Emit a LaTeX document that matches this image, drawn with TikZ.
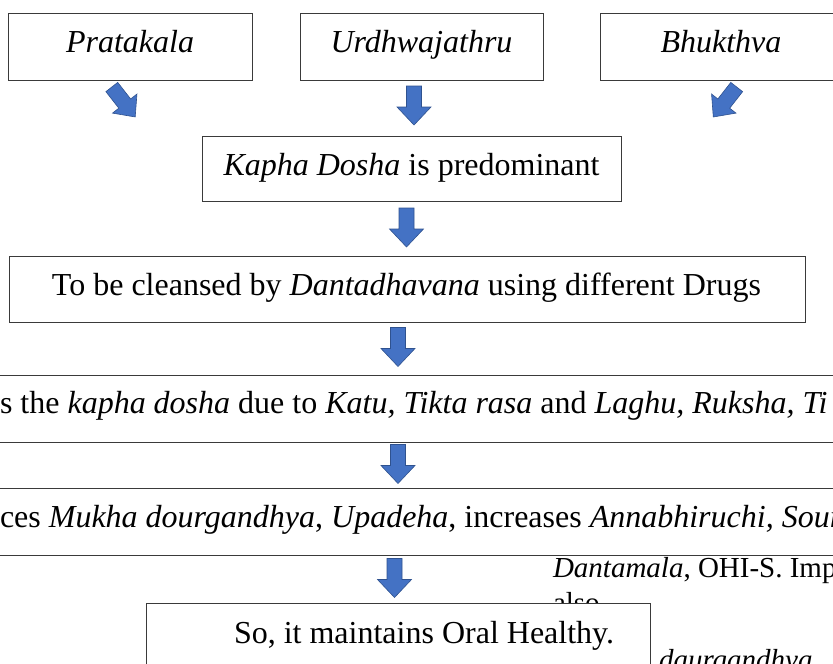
\documentclass[tikz,border=0pt]{standalone}
\usepackage{fontspec}
\setmainfont{Liberation Serif}
\definecolor{arrowblue}{HTML}{4472C4}
\definecolor{arrowedge}{HTML}{2F528F}
\definecolor{boxedge}{HTML}{3A3A3A}
\tikzset{
  box/.style={draw=boxedge, line width=1pt, fill=white, inner sep=0pt, outer sep=0pt},
  lbl/.style={inner sep=0pt, outer sep=0pt, anchor=base},
  lblw/.style={inner sep=0pt, outer sep=0pt, anchor=base west},
  mainfont/.style={font=\fontsize{32}{38}\selectfont},
  sidefont/.style={font=\fontsize{29}{34}\selectfont},
  bigarrow/.pic={\path[fill=arrowblue, draw=arrowedge, line width=0.6pt]
     (-7.5,-19.5) -- (7.5,-19.5) -- (7.5,1.5) -- (17,1.5) -- (0,19.5)
     -- (-17,1.5) -- (-7.5,1.5) -- cycle;},
  smallarrow/.pic={\path[fill=arrowblue, draw=arrowedge, line width=0.6pt]
     (-7.5,-19) -- (7.5,-19) -- (7.5,2) -- (15.5,2) -- (0,19)
     -- (-15.5,2) -- (-7.5,2) -- cycle;}
}
\begin{document}
\begin{tikzpicture}[x=1pt,y=-1pt,mainfont]
\useasboundingbox (0,0) rectangle (833,664);
\clip (0,0) rectangle (833,664);
\fill[white] (0,0) rectangle (833,664);

% top boxes
\node[box, minimum width=244, minimum height=67] (pbox) at (130,46.5) {};
\node[lbl] (ptxt) at (130,52) {\textit{Pratakala}};
\node[box, minimum width=243, minimum height=67] (ubox) at (421.5,46.5) {};
\node[lbl] (utxt) at (421.5,52) {\textit{Urdhwajathru}};
\node[box, minimum width=242, minimum height=67] (bbox) at (721,46.5) {};
\node[lbl] (btxt) at (721,52) {\textit{Bhukthva}};

% arrows into Kapha box
\pic[rotate=38] at (123.5,102) {smallarrow};
\pic at (414,105.5) {bigarrow};
\pic[rotate=-38] at (725,102) {smallarrow};

% Kapha box
\node[box, minimum width=419, minimum height=65] (kbox) at (411.5,168.5) {};
\node[lbl] (ktxt) at (411.5,175) {\textit{Kapha Dosha} is predominant};

\pic at (406.5,227.5) {bigarrow};

% Dantadhavana box
\node[box, minimum width=796, minimum height=66] (dbox) at (407,289) {};
\node[lbl] (dtxt) at (406.5,295) {To be cleansed by \textit{Dantadhavana} using different Drugs};

\pic at (398,347) {bigarrow};

% wide line 1
\node[box, minimum width=873, minimum height=67] (w1box) at (416.5,408.5) {};
\node[lblw] (w1txt) at (0,413) {s the \textit{kapha dosha} due to \textit{Katu, Tikta rasa} and \textit{Laghu, Ruksha, Ti}};

\pic at (398,464) {bigarrow};

% wide line 2
\node[box, minimum width=873, minimum height=67] (w2box) at (416.5,521.5) {};
\node[lblw] (w2txt) at (0,527) {ces \textit{Mukha dourgandhya}, \textit{Upadeha}, increases \textit{Annabhiruchi, Sour}};

% side text partly hidden
\node[lblw, sidefont] (s1) at (553,577) {\textit{Dantamala}, OHI-S. Imp};
\node[lblw, sidefont] (s2) at (553,612) {also};
\node[lblw, sidefont] (s3) at (659,669) {\textit{daurgandhya}};

\pic at (394.5,578) {bigarrow};

% final box
\node[box, minimum width=504, minimum height=120] (fbox) at (398,663) {};
\node[lblw] (ftxt) at (234,643) {So, it maintains Oral Healthy.};
\end{tikzpicture}
\end{document}
